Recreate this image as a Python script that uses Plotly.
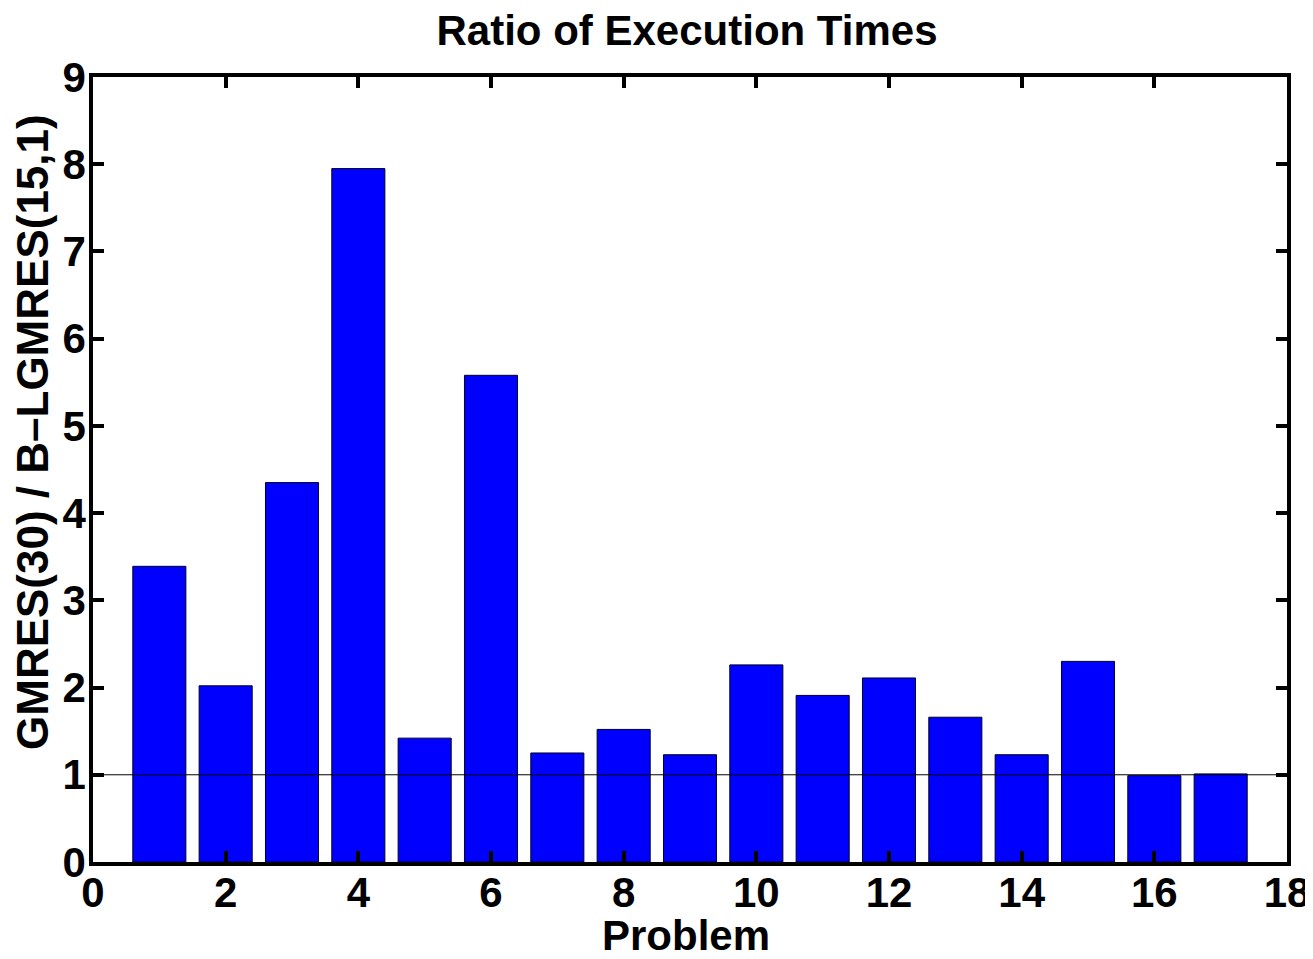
import plotly.graph_objects as go

problems = list(range(1, 18))
ratios = [3.39, 2.02, 4.35, 7.95, 1.42, 5.58, 1.25, 1.52, 1.23, 2.26, 1.91, 2.11, 1.66, 1.23, 2.30, 0.99, 1.01]
ref_x = [0, 18]
ref_y = [1, 1]
x_ticks = list(range(0, 19, 2))
y_ticks = list(range(0, 10))

FONT = "Liberation Sans, Arial, sans-serif"
W, H = 1305, 951
L, R, T, B = 85, 26, 69, 97
PW, PH = W - L - R, H - T - B

fig = go.Figure()
fig.add_trace(go.Bar(
    x=problems, y=ratios, width=0.8,
    marker=dict(color="#0000FF", line=dict(color="#000022", width=1)),
    showlegend=False,
))
fig.add_trace(go.Scatter(
    x=ref_x, y=ref_y, mode="lines",
    line=dict(color="black", width=1), showlegend=False,
))

axis_common = dict(
    showline=True, linecolor="black", linewidth=3.5, mirror="ticks",
    ticks="inside", ticklen=11, tickwidth=3.5, tickcolor="black",
    showgrid=False, zeroline=False, automargin=False,
    tickfont=dict(family=FONT, size=42, color="black", weight="bold"),
)

fig.update_layout(
    width=W, height=H,
    margin=dict(l=L, r=R, t=T, b=B, autoexpand=False),
    paper_bgcolor="white", plot_bgcolor="white",
    title=dict(text="Ratio of Execution Times", x=(679) / W, xanchor="center",
               yref="container", y=1 - 22 / H, yanchor="middle",
               font=dict(family=FONT, size=42, color="black", weight="bold")),
    xaxis=dict(range=[0, 18], tickvals=x_ticks, ticklabelstandoff=-9, **axis_common),
    yaxis=dict(range=[0, 9], tickvals=y_ticks, ticklabelstandoff=-5, **axis_common),
    bargap=0.2,
    annotations=[
        dict(text="Problem", xref="paper", yref="paper",
             x=(678 - L) / PW, y=(H - B - 927) / PH, xanchor="center", yanchor="middle",
             showarrow=False,
             font=dict(family=FONT, size=42, color="black", weight="bold")),
        dict(text="GMRES(30) / B\u2013LGMRES(15,1)", xref="paper", yref="paper",
             x=(24 - L) / PW, y=(H - B - (432 - 8)) / PH, xanchor="center", yanchor="middle",
             textangle=-90, showarrow=False,
             font=dict(family=FONT, size=44, color="black", weight="bold")),
    ],
)

fig.write_html("out.html")
